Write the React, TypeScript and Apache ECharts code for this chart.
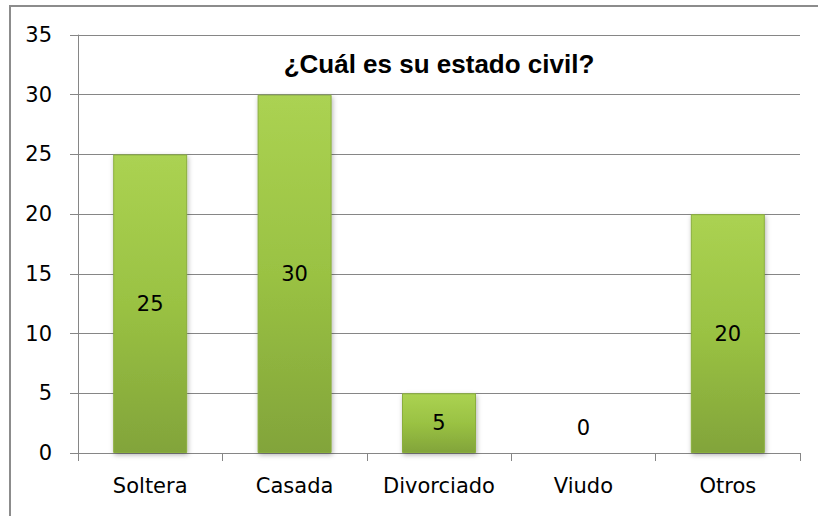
import React, { useEffect, useRef } from "react";
import * as echarts from "echarts";

const categories = ["Soltera", "Casada", "Divorciado", "Viudo", "Otros"];
const values = [25, 30, 5, 0, 20];
const titleText = "¿Cuál es su estado civil?";
const yMin = 0;
const yMax = 35;
const yStep = 5;

export default function App() {
  const ref = useRef<HTMLDivElement>(null);
  useEffect(() => {
    if (!ref.current) return;
    const chart = echarts.init(ref.current, null, { renderer: "svg" });
    const gray = "#868686";
    const font = "DejaVu Sans";
    chart.setOption({
      animation: false,
      backgroundColor: "#ffffff",
      graphic: [
        {
          type: "rect",
          shape: { x: 10, y: 6, width: 900, height: 600 },
          style: { fill: "none", stroke: "#8c8c8c", lineWidth: 2 },
          silent: true,
        },
      ],
      title: {
        text: titleText,
        left: 434,
        top: 46,
        textAlign: "center",
        textStyle: {
          fontFamily: "Liberation Sans",
          fontWeight: "bold",
          fontSize: 26,
          color: "#000",
        },
      },
      grid: { left: 78, right: 18, top: 35, bottom: 63 },
      xAxis: {
        type: "category",
        data: categories,
        axisLine: { lineStyle: { color: gray, width: 1 } },
        axisTick: { show: true, length: 8, lineStyle: { color: gray } },
        axisLabel: {
          interval: 0,
          fontFamily: font,
          fontSize: 21,
          color: "#000",
          margin: 22,
        },
      },
      yAxis: {
        type: "value",
        min: yMin,
        max: yMax,
        interval: yStep,
        axisLine: { show: true, lineStyle: { color: gray, width: 1 } },
        axisTick: { show: true, length: 8, lineStyle: { color: gray } },
        splitLine: { show: true, lineStyle: { color: gray, width: 1 } },
        axisLabel: { fontFamily: font, fontSize: 21, color: "#000", margin: 26 },
      },
      series: [
        {
          type: "bar",
          barWidth: 74,
          data: values.map((v) =>
            v === 0
              ? { value: v, label: { position: "top", distance: 14 } }
              : { value: v }
          ),
          itemStyle: {
            color: new echarts.graphic.LinearGradient(0, 0, 0, 1, [
              { offset: 0, color: "#abd252" },
              { offset: 0.5, color: "#9ac243" },
              { offset: 1, color: "#82a43a" },
            ]),
            borderColor: "#8aae3e",
            borderWidth: 1,
            shadowBlur: 5,
            shadowColor: "rgba(0,0,0,0.3)",
            shadowOffsetX: 1,
            shadowOffsetY: 2,
          },
          label: {
            show: true,
            position: "inside",
            fontFamily: font,
            fontSize: 21,
            color: "#000",
          },
        },
      ],
    });
    return () => chart.dispose();
  }, []);
  return (
    <div
      ref={ref}
      style={{ position: "absolute", left: 0, top: 0, width: 818, height: 516 }}
    />
  );
}
